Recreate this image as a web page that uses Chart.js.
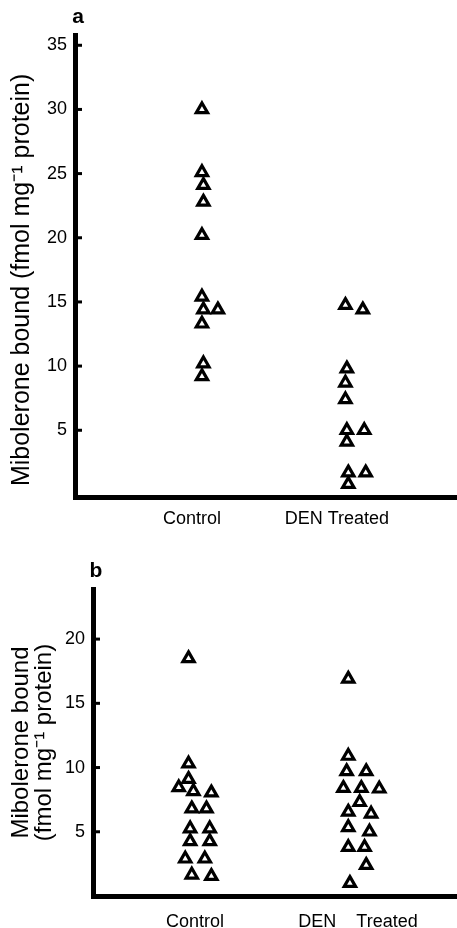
<!DOCTYPE html>
<html>

<head>
    <meta charset="utf-8">
    <script src="https://cdn.jsdelivr.net/npm/chart.js@4/dist/chart.umd.min.js"></script>
    <title>Mibolerone bound</title>
    <style>
        body { margin: 0; background: #fff; width: 457px; height: 928px; overflow: hidden; }
        canvas { position: absolute; left: 0; }
    </style>
</head>

<body>
    <canvas id="chart-a" width="457" height="535" style="top:0"></canvas>
    <canvas id="chart-b" width="457" height="393" style="top:535px"></canvas>
    <script>
        // categories on the x axis
        const categoriesA = ['Control', 'DEN Treated'];
        const categoriesB = ['Control', 'DEN    Treated'];

        // panel a values (fmol mg-1 protein), jitter = sideways offset in category units
        const aControl = [30, 25.1, 24.1, 22.8, 20.2, 15.4, 14.4, 14.4, 13.3, 10.2, 9.2];
        const aControlJitter = [0, 0, 0.01, 0.01, 0, 0, 0.01, 0.11, 0, 0.01, 0];
        const aDen = [14.75, 14.4, 9.8, 8.7, 7.4, 5.0, 5.0, 4.1, 1.7, 1.7, 0.8];
        const aDenJitter = [-0.01, 0.11, 0, -0.01, -0.01, 0, 0.12, 0, 0.01, 0.13, 0.01];

        // panel b values
        const bControl = [18.5, 10.3, 9.1, 8.45, 8.15, 8.05, 6.8, 6.8, 5.25, 5.25, 4.25, 4.25, 2.9, 2.9, 1.65, 1.55];
        const bControlJitter = [-0.04, -0.04, -0.04, -0.1, -0.01, 0.1, -0.02, 0.07, -0.03, 0.09, -0.03, 0.09, -0.06, 0.06, -0.02, 0.1];
        const bDen = [16.9, 10.9, 9.7, 9.7, 8.4, 8.4, 8.35, 7.3, 6.55, 6.4, 5.35, 5.0, 3.8, 3.8, 2.4, 1.0];
        const bDenJitter = [-0.06, -0.06, -0.07, 0.05, -0.09, 0.02, 0.13, 0.01, -0.06, 0.08, -0.06, 0.07, -0.06, 0.04, 0.05, -0.05];

        // y tick values and labels
        const yTicksA = [5, 10, 15, 20, 25, 30, 35];
        const yTickLabelsA = ['5', '10', '15', '20', '25', '30', '35'];
        const yTicksB = [5, 10, 15, 20];
        const yTickLabelsB = ['5', '10', '15', '20'];

        const FONT = "'Liberation Sans', Arial, Helvetica, sans-serif";

        // inward tick marks on the y axis + panel letter
        const panelDeco = {
            id: 'panelDeco',
            afterDraw(chart, args, opts) {
                const ctx = chart.ctx;
                const y = chart.scales.y;
                const left = chart.chartArea.left;
                ctx.save();
                ctx.strokeStyle = '#000';
                ctx.lineWidth = 3;
                y.ticks.forEach(t => {
                    const py = y.getPixelForValue(t.value);
                    ctx.beginPath();
                    ctx.moveTo(left, py);
                    ctx.lineTo(left + 7, py);
                    ctx.stroke();
                });
                ctx.fillStyle = '#000';
                ctx.font = 'bold 21px ' + FONT;
                ctx.textAlign = 'center';
                ctx.textBaseline = 'middle';
                ctx.fillText(opts.letter, left + 3, chart.chartArea.top - 18);
                ctx.restore();
            }
        };

        function points(values, jitter, cat) {
            return values.map((v, i) => ({ x: cat + jitter[i], y: v }));
        }

        function makeChart(id, cfg) {
            const tri = {
                pointStyle: 'triangle',
                pointRadius: 6.5,
                pointBorderWidth: 3.2,
                pointBackgroundColor: '#fff',
                pointBorderColor: '#000',
                showLine: false
            };
            return new Chart(document.getElementById(id), {
                type: 'scatter',
                data: {
                    datasets: [
                        Object.assign({ label: 'Control', data: cfg.control }, tri),
                        Object.assign({ label: 'DEN Treated', data: cfg.den }, tri)
                    ]
                },
                options: {
                    responsive: false,
                    animation: false,
                    layout: { autoPadding: false, padding: { top: cfg.top, right: 0, bottom: 0, left: 0 } },
                    plugins: {
                        legend: { display: false },
                        tooltip: { enabled: false },
                        panelDeco: { letter: cfg.letter }
                    },
                    scales: {
                        x: {
                            type: 'linear',
                            min: cfg.xMin,
                            max: cfg.xMax,
                            grid: { display: false },
                            border: { display: true, width: 5, color: '#000' },
                            afterBuildTicks: s => { s.ticks = [{ value: 1 }, { value: 2 }]; },
                            afterFit: s => { s.height = cfg.xHeight; },
                            ticks: {
                                autoSkip: false,
                                maxRotation: 0,
                                padding: cfg.xPad,
                                labelOffset: cfg.labelOffset,
                                color: '#000',
                                font: { family: FONT, size: 18 },
                                callback: (v, i) => cfg.cats[i]
                            }
                        },
                        y: {
                            min: cfg.yMin,
                            max: cfg.yMax,
                            grid: { display: false },
                            border: { display: true, width: 5, color: '#000' },
                            afterBuildTicks: s => { s.ticks = cfg.yTicks.map(v => ({ value: v })); },
                            afterFit: s => { s.width = cfg.yWidth; },
                            ticks: {
                                autoSkip: false,
                                padding: 0,
                                color: '#000',
                                font: { family: FONT, size: 18 },
                                callback: (v, i) => cfg.yLabels[i]
                            },
                            title: {
                                display: true,
                                text: cfg.title,
                                color: '#000',
                                padding: { top: cfg.titlePad, bottom: 0 },
                                font: { family: FONT, size: cfg.titleSize, lineHeight: cfg.titleLH }
                            }
                        }
                    }
                },
                plugins: [panelDeco]
            });
        }

        makeChart('chart-a', {
            letter: 'a',
            control: points(aControl, aControlJitter, 1),
            den: points(aDen, aDenJitter, 2),
            cats: categoriesA,
            yTicks: yTicksA, yLabels: yTickLabelsA,
            top: 35, xHeight: 38, yWidth: 75,
            xMin: 0.124, xMax: 2.76, yMin: -0.2, yMax: 35.8,
            xPad: 3, labelOffset: -10,
            title: 'Mibolerone bound (fmol mg\u207B\u00B9 protein)    ',
            titlePad: 7, titleLH: 1.2, titleSize: 25
        });

        makeChart('chart-b', {
            letter: 'b',
            control: points(bControl, bControlJitter, 1),
            den: points(bDen, bDenJitter, 2),
            cats: categoriesB,
            yTicks: yTicksB, yLabels: yTickLabelsB,
            top: 54, xHeight: 32, yWidth: 93,
            xMin: 0.374, xMax: 2.607, yMin: 0, yMax: 23.9,
            xPad: 7, labelOffset: 0,
            title: ['Mibolerone bound', '(fmol mg\u207B\u00B9 protein)'],
            titlePad: 10, titleLH: 0.95, titleSize: 24
        });
    </script>
</body>

</html>
